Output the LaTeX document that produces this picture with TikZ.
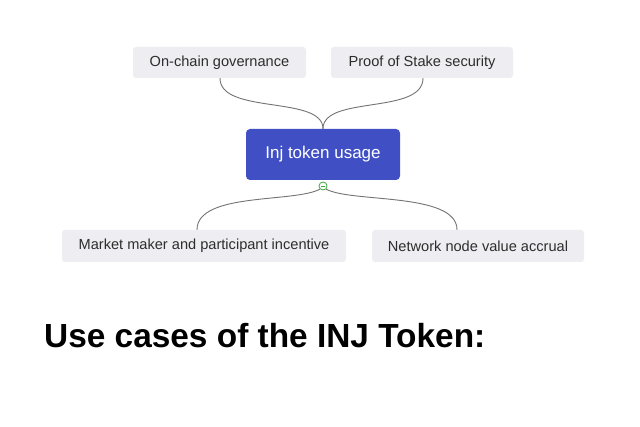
\documentclass[tikz,border=0pt]{standalone}
\usepackage{fontspec}
\setmainfont{Liberation Sans}
\definecolor{boxgray}{RGB}{238,238,242}
\definecolor{mainblue}{RGB}{64,80,196}
\definecolor{txtgray}{RGB}{45,45,45}
\definecolor{linegray}{RGB}{115,115,115}
\definecolor{dotgreen}{RGB}{60,170,60}
\begin{document}
\begin{tikzpicture}[x=1pt,y=-1pt,
  leaf/.style={fill=boxgray,rounded corners=3pt,inner sep=0pt,text=txtgray,font=\fontsize{14.6}{17}\selectfont},
  hub/.style={fill=mainblue,rounded corners=4pt,inner sep=0pt,text=white,font=\fontsize{17}{20}\selectfont},
  link/.style={draw=linegray,line width=0.9pt}]
\useasboundingbox[fill=white] (0,0) rectangle (640,427);
\node[leaf,minimum width=173pt,minimum height=31pt] (gov) at (219.5,62.5) {On-chain governance};
\node[leaf,minimum width=182pt,minimum height=31pt] (pos) at (422,62.5) {Proof of Stake security};
\node[hub,minimum width=154pt,minimum height=51pt] (inj) at (323,154.5) {Inj token usage};
\node[leaf,minimum width=284pt,minimum height=32pt] (mm) at (204,246) {Market maker and participant incentive};
\node[leaf,minimum width=212pt,minimum height=32pt] (net) at (478,246) {Network node value accrual};
\node[circle,draw=dotgreen,fill=white,line width=0.8pt,minimum size=8pt,inner sep=0pt] (dot) at (323,186) {};
\draw[dotgreen,line width=0.8pt] ([xshift=-2pt]dot.center) -- ([xshift=2pt]dot.center);
\coordinate (g1) at ([xshift=0.5pt]gov.south);
\coordinate (p1) at ([xshift=1pt]pos.south);
\draw[link] (g1) .. controls (220,115) and (323,95) .. (inj.north);
\draw[link] (p1) .. controls (423,115) and (323,95) .. (inj.north);
\coordinate (m1) at ([xshift=-7pt]mm.north);
\coordinate (n1) at ([xshift=-21pt]net.north);
\draw[link] (dot.south west) .. controls (295,203) and (197,192) .. (m1);
\draw[link] (dot.south east) .. controls (351,203) and (457,192) .. (n1);
\node[anchor=base west,inner sep=0pt,font=\fontsize{33.4}{38}\bfseries\selectfont] (title) at (44,348) {Use cases of the INJ Token:};
\end{tikzpicture}
\end{document}
